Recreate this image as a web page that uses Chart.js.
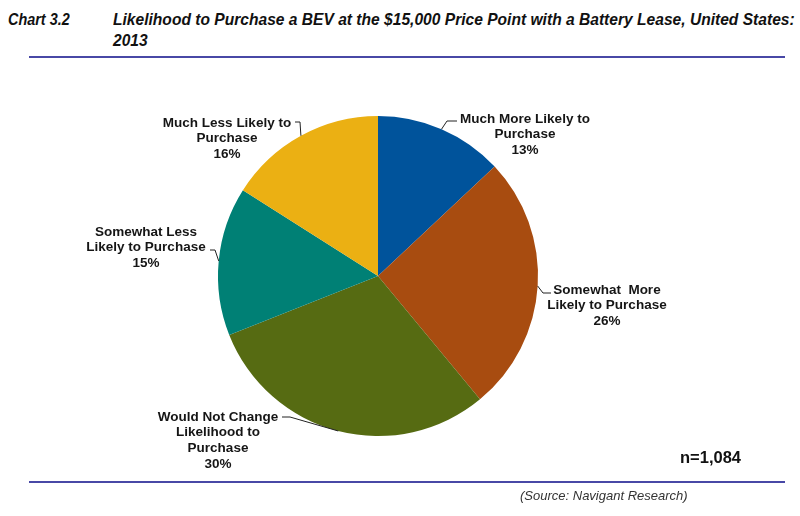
<!DOCTYPE html>
<html>
<head>
<meta charset="utf-8">
<script src="https://cdn.jsdelivr.net/npm/chart.js@4.4.0/dist/chart.umd.min.js"></script>
<style>
    body { margin: 0; background: #fff; }
    #wrap { position: relative; width: 800px; height: 516px; overflow: hidden; }
    .title { position: absolute; font-family: 'Liberation Sans', Arial, sans-serif; white-space: nowrap;
             font-weight: bold; font-style: italic; font-size: 16.5px; color: #111; line-height: 21px;
             transform-origin: 0 0; }
    .rule { position: absolute; left: 29px; width: 756px; height: 2px; background: #4848a6; }
    #n { position: absolute; left: 680px; top: 448px; font: bold 16.5px 'Liberation Sans', Arial, sans-serif; color: #111; }
    #source { position: absolute; left: 520px; top: 488px; font: italic 13px 'Liberation Sans', Arial, sans-serif; color: #333; }
    canvas { position: absolute; left: 0; top: 0; }
</style>
</head>
<body>
<div id="wrap">
    <div class="title" id="t0" style="left:8px; top:9px;">Chart 3.2</div>
    <div class="title" id="t1" style="left:113px; top:9px;">Likelihood to Purchase a BEV at the $15,000 Price Point with a Battery Lease, United States:</div>
    <div class="title" id="t2" style="left:113px; top:30px;">2013</div>
    <div class="rule" style="top:56px;"></div>
    <canvas id="pieChart" width="800" height="516"></canvas>
    <div id="n">n=1,084</div>
    <div class="rule" style="top:481px;"></div>
    <div id="source">(Source: Navigant Research)</div>
</div>
<script>
const categories = [
    'Much More Likely to Purchase',
    'Somewhat More Likely to Purchase',
    'Would Not Change Likelihood to Purchase',
    'Somewhat Less Likely to Purchase',
    'Much Less Likely to Purchase'
];
const shares = [13, 26, 30, 15, 16];
const labelLines = [
    ['Much More Likely to', 'Purchase'],
    ['Somewhat  More', 'Likely to Purchase'],
    ['Would Not Change', 'Likelihood to', 'Purchase'],
    ['Somewhat Less', 'Likely to Purchase'],
    ['Much Less Likely to', 'Purchase']
];
const sliceColors = ['#00539b', '#a84c10', '#566b12', '#008075', '#ebb013'];

// title is set in a narrow face in the original, squeeze it to the same widths
const t0 = document.getElementById('t0');
const t1 = document.getElementById('t1');
const t2 = document.getElementById('t2');
const k0 = 62 / t0.offsetWidth;
const k1 = 682 / t1.offsetWidth;
t0.style.transform = 'scaleX(' + k0 + ')';
t1.style.transform = 'scaleX(' + k1 + ')';
t2.style.transform = 'scaleX(' + k1 + ')';

// where each callout sits: elbow, line end, text centre x, first text line y
const callouts = [
    { elbow: [447, 121], end: [457, 121], tx: 525, ty: 119 },
    { elbow: [543, 293], end: [551, 293], tx: 607, ty: 290 },
    { elbow: [290, 417], end: [282, 417], tx: 218, ty: 417 },
    { elbow: [215, 250], end: [210, 250], tx: 146, ty: 232 },
    { elbow: [300, 122], end: [295, 122], tx: 227, ty: 123 }
];

const calloutPlugin = {
    id: 'callouts',
    afterDatasetsDraw(chart) {
        const ctx = chart.ctx;
        const meta = chart.getDatasetMeta(0);
        ctx.save();
        meta.data.forEach((arc, i) => {
            const c = callouts[i];
            const mid = (arc.startAngle + arc.endAngle) / 2;
            const sx = arc.x + Math.cos(mid) * arc.outerRadius;
            const sy = arc.y + Math.sin(mid) * arc.outerRadius;

            ctx.strokeStyle = '#222';
            ctx.lineWidth = 1;
            ctx.beginPath();
            ctx.moveTo(sx, sy);
            ctx.lineTo(c.elbow[0], c.elbow[1]);
            ctx.lineTo(c.end[0], c.end[1]);
            ctx.stroke();

            const lines = labelLines[i].concat([shares[i] + '%']);
            ctx.fillStyle = '#151515';
            ctx.font = "bold 13.5px 'Liberation Sans', Arial, sans-serif";
            ctx.textAlign = 'center';
            ctx.textBaseline = 'middle';
            lines.forEach((line, k) => {
                ctx.fillText(line, c.tx, c.ty + k * 15.6);
            });
        });
        ctx.restore();
    }
};

new Chart(document.getElementById('pieChart'), {
    type: 'pie',
    data: {
        labels: categories,
        datasets: [{
            data: shares,
            backgroundColor: sliceColors,
            borderWidth: 0
        }]
    },
    options: {
        responsive: false,
        animation: false,
        layout: { padding: { left: 218, right: 262, top: 116, bottom: 80 } },
        plugins: {
            legend: { display: false },
            tooltip: { enabled: false }
        }
    },
    plugins: [calloutPlugin]
});
</script>
</body>
</html>
